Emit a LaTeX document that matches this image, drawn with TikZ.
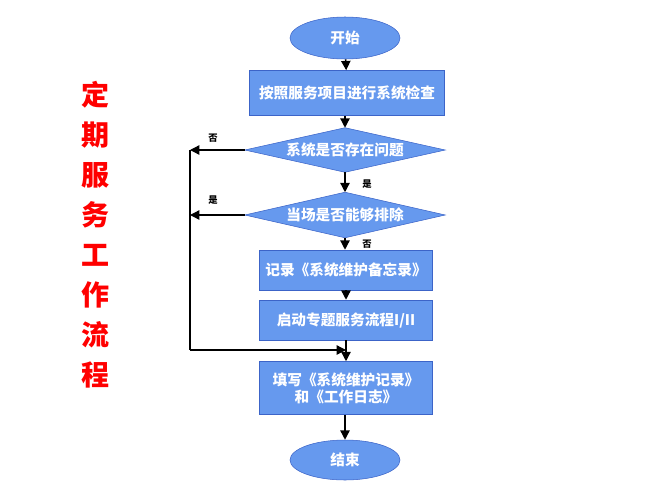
\documentclass[tikz,border=0pt]{standalone}
\usepackage{fontspec}
\newfontfamily\cjk{Noto Sans CJK SC}
\usetikzlibrary{shapes.geometric,arrows.meta}
\definecolor{fillb}{RGB}{102,153,238}
\definecolor{lineb}{RGB}{60,100,200}
\begin{document}
\begin{tikzpicture}[x=0.75pt,y=-0.75pt,
 box/.style={draw=lineb,fill=fillb,text=white,font=\cjk\bfseries\fontsize{11}{13}\selectfont,inner sep=0pt,align=center},
 ell/.style={box,ellipse},
 dtxt/.style={text=white,font=\cjk\bfseries\fontsize{11}{13}\selectfont,inner sep=0pt},
 dshape/.style={draw=lineb,fill=fillb},
 arr/.style={-{Triangle[length=7pt,width=7pt]},line width=1pt},
 lab/.style={font=\cjk\bfseries\fontsize{7}{8}\selectfont}]
\useasboundingbox (0,0) rectangle (667,500);
\node[ell,minimum width=110*0.75pt,minimum height=42*0.75pt] (s) at (345,38) {开始};
\node[box,minimum width=195*0.75pt,minimum height=45*0.75pt] (b1) at (347,93) {按照服务项目进行系统检查};
\node[dtxt,minimum width=200*0.75pt,minimum height=44*0.75pt] (d1) at (345,150) {};
\node[dtxt,minimum width=200*0.75pt,minimum height=45*0.75pt] (d2) at (345,215) {};
\fill[dshape] (d1.west) -- (d1.north) -- (d1.east) -- (d1.south) -- cycle;
\fill[dshape] (d2.west) -- (d2.north) -- (d2.east) -- (d2.south) -- cycle;
\node[dtxt] (d1t) at (d1.center) {系统是否存在问题};
\node[dtxt] (d2t) at (d2.center) {当场是否能够排除};
\node[box,minimum width=173*0.75pt,minimum height=40*0.75pt] (b2) at (346,270) {记录《系统维护备忘录》};
\node[box,minimum width=173*0.75pt,minimum height=40*0.75pt] (b3) at (346,320) {启动专题服务流程I/II};
\node[box,minimum width=173*0.75pt,minimum height=53*0.75pt] (b4) at (346,388) {填写《系统维护记录》\\和《工作日志》};
\node[ell,minimum width=110*0.75pt,minimum height=40*0.75pt] (e) at (345,460) {结束};
\coordinate (l1) at (190,150);
\coordinate (l2) at (190,215);
\coordinate (l3) at (190,350);
\coordinate (m) at (346,350);
\draw[arr] (s) -- (b1);
\draw[arr] (b1.south -| d1.north) -- (d1.north);
\draw[arr] (d1.south) -- (d2.north);
\draw[arr] (d2.south) -- (d2.south |- b2.north);
\draw[arr] (b2) -- (b3);
\draw[arr] (b3) -- (b4);
\draw[arr] (b4.south -| e) -- (e);
\draw[arr] (d1.west) -- (l1);
\draw[arr] (d2.west) -- (l2);
\draw[line width=1pt] (l1) -- (l3);
\draw[arr] (l3) -- (m);
\node[lab] (n1) at (213,138) {否};
\node[lab] (n2) at (213,200) {是};
\node[lab] (n3) at (367,184) {是};
\node[lab] (n4) at (367,244) {否};
\node[text=red,font=\cjk\bfseries\fontsize{21}{30}\selectfont,align=center] (t) at (95,235) {定\\期\\服\\务\\工\\作\\流\\程};
\end{tikzpicture}
\end{document}
